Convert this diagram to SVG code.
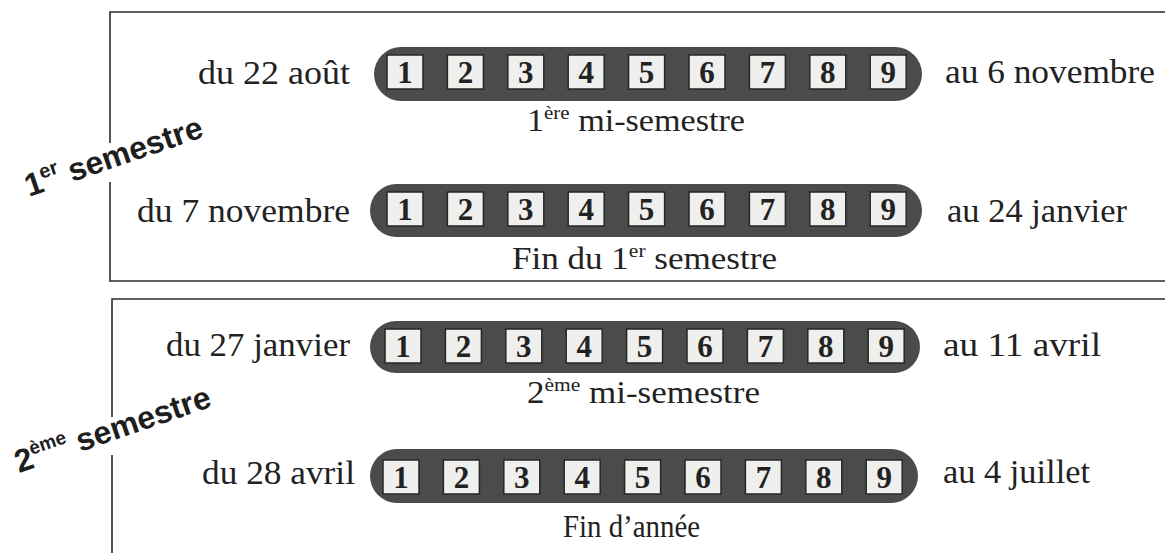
<svg xmlns="http://www.w3.org/2000/svg" width="1165" height="553" viewBox="0 0 1165 553">
<style>
.frame{fill:none;stroke:#2b2b2b;stroke-width:1.6}
.pill{fill:#4a4c4b}
.box{fill:#efefed;stroke:#262626;stroke-width:1.5}
.num{font-family:"Liberation Serif",serif;font-weight:bold;font-size:31px;fill:#222;text-anchor:middle}
.lbl{font-family:"Liberation Serif",serif;font-size:34px;fill:#222}
.sub{font-family:"Liberation Serif",serif;font-size:31px;fill:#222}
.sem{font-family:"Liberation Sans",Arial,sans-serif;font-weight:bold;font-size:32px;fill:#1e1e1e}
</style>
<defs>
<g id="boxes">
<rect class="box" x="0" y="0" width="36" height="34"/><text class="num" x="18" y="28">1</text>
<rect class="box" x="60.4" y="0" width="36" height="34"/><text class="num" x="78.4" y="28">2</text>
<rect class="box" x="120.8" y="0" width="36" height="34"/><text class="num" x="138.8" y="28">3</text>
<rect class="box" x="181.2" y="0" width="36" height="34"/><text class="num" x="199.2" y="28">4</text>
<rect class="box" x="241.6" y="0" width="36" height="34"/><text class="num" x="259.6" y="28">5</text>
<rect class="box" x="302" y="0" width="36" height="34"/><text class="num" x="320" y="28">6</text>
<rect class="box" x="362.4" y="0" width="36" height="34"/><text class="num" x="380.4" y="28">7</text>
<rect class="box" x="422.8" y="0" width="36" height="34"/><text class="num" x="440.8" y="28">8</text>
<rect class="box" x="483.2" y="0" width="36" height="34"/><text class="num" x="501.2" y="28">9</text>
</g>
</defs>
<rect width="1165" height="553" fill="#ffffff"/>

<g id="frame-1">
<path class="frame" d="M1165,12 H110 V143 M110,182 V281 H1165"/>
</g>
<g id="frame-2">
<path class="frame" d="M1165,299 H112 V417 M112,455 V553"/>
</g>

<g id="semestre-1">
<text class="sem" transform="translate(29,197) rotate(-19)"><tspan>1</tspan><tspan font-size="20" dy="-13">er</tspan><tspan dx="9" dy="13">semestre</tspan></text>
</g>
<g id="semestre-2">
<text class="sem" font-size="31" transform="translate(19,473) rotate(-19)"><tspan>2</tspan><tspan font-size="19" dy="-13">ème</tspan><tspan dx="9" dy="13">semestre</tspan></text>
</g>

<g id="row-1">
<text class="lbl" x="198" y="84" textLength="152" lengthAdjust="spacingAndGlyphs">du 22 août</text>
<rect class="pill" x="374" y="47" width="548" height="54" rx="27"/>
<use href="#boxes" x="387" y="55"/>
<text class="lbl" x="945" y="83" textLength="210" lengthAdjust="spacingAndGlyphs">au 6 novembre</text>
<text class="sub" x="527" y="131" textLength="218" lengthAdjust="spacingAndGlyphs">1<tspan font-size="19" dy="-12">ère</tspan><tspan dy="12"> mi-semestre</tspan></text>
</g>

<g id="row-2">
<text class="lbl" x="137" y="222" textLength="213" lengthAdjust="spacingAndGlyphs">du 7 novembre</text>
<rect class="pill" x="370" y="184" width="552" height="53" rx="26.5"/>
<use href="#boxes" x="387" y="192"/>
<text class="lbl" x="947" y="222" textLength="180" lengthAdjust="spacingAndGlyphs">au 24 janvier</text>
<text class="sub" x="512" y="269" textLength="265" lengthAdjust="spacingAndGlyphs">Fin du 1<tspan font-size="19" dy="-12">er</tspan><tspan dy="12"> semestre</tspan></text>
</g>

<g id="row-3">
<text class="lbl" x="166" y="356" textLength="184" lengthAdjust="spacingAndGlyphs">du 27 janvier</text>
<rect class="pill" x="370" y="321" width="550" height="52" rx="26"/>
<use href="#boxes" x="385" y="329"/>
<text class="lbl" x="943" y="356" textLength="158" lengthAdjust="spacingAndGlyphs">au 11 avril</text>
<text class="sub" x="527" y="403" textLength="233" lengthAdjust="spacingAndGlyphs">2<tspan font-size="19" dy="-12">ème</tspan><tspan dy="12"> mi-semestre</tspan></text>
</g>

<g id="row-4">
<text class="lbl" x="202" y="484" textLength="153" lengthAdjust="spacingAndGlyphs">du 28 avril</text>
<rect class="pill" x="370" y="449" width="548" height="54" rx="27"/>
<use href="#boxes" x="383" y="460"/>
<text class="lbl" x="943" y="483" textLength="147" lengthAdjust="spacingAndGlyphs">au 4 juillet</text>
<text class="sub" x="563" y="537" textLength="137" lengthAdjust="spacingAndGlyphs">Fin d’année</text>
</g>

<g id="connectors"/>
</svg>
